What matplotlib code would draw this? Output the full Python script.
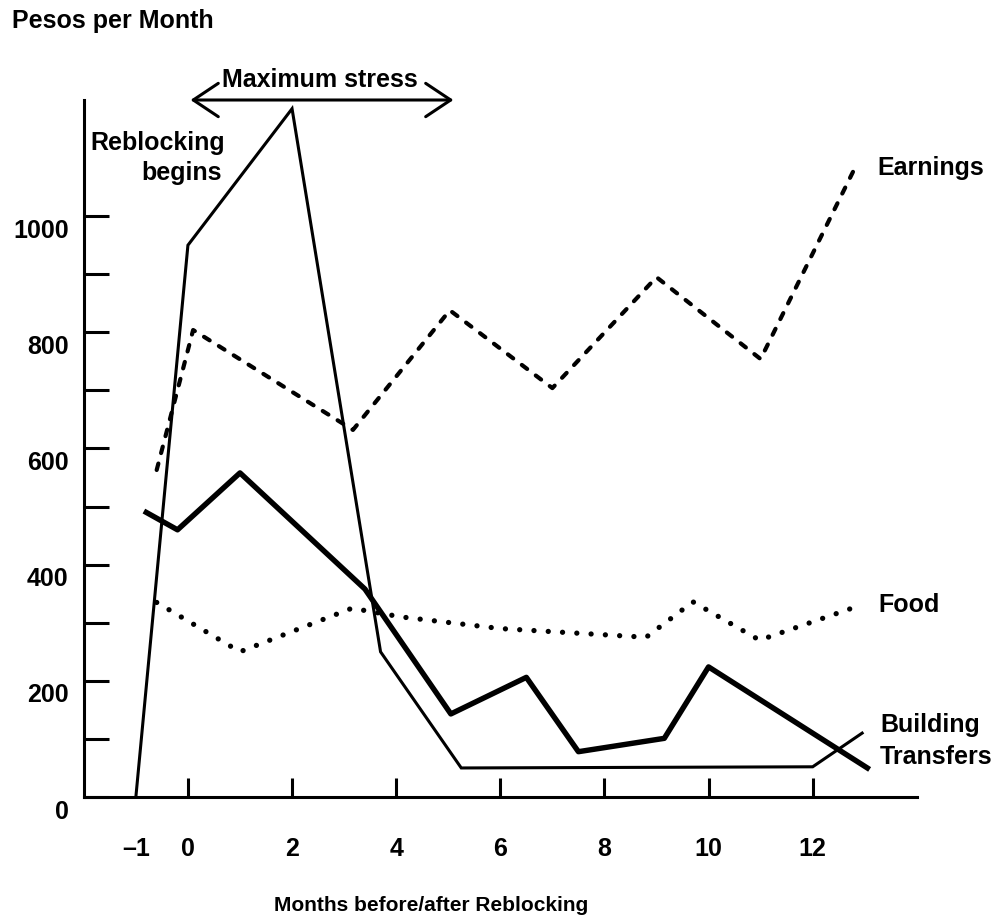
import matplotlib
matplotlib.use("Agg")
import matplotlib.pyplot as plt
from matplotlib.transforms import ScaledTranslation

# ---- data ----
building_x = [-1, 0, 2, 3.7, 5.25, 12, 12.95]
building_y = [0, 950, 1185, 250, 50, 52, 110]

transfers_x = [-0.8, -0.2, 1.0, 3.4, 5.05, 6.5, 7.5, 9.15, 10.0, 13.05]
transfers_y = [490, 460, 558, 358, 143, 206, 78, 101, 224, 50]

earnings_x = [-0.6, 0.1, 3.17, 5.03, 7.0, 9.0, 11.0, 12.8]
earnings_y = [563, 804, 632, 838, 704, 895, 754, 1081]

food_x = [-0.6, 1.0, 3.15, 4.1, 6.0, 8.8, 9.7, 10.98, 12.85]
food_y = [335, 250, 325, 310, 290, 275, 336, 270, 328]

x_ticks = [0, 2, 4, 6, 8, 10, 12]
x_tick_labels = ["0", "2", "4", "6", "8", "10", "12"]
y_ticks = [0, 100, 200, 300, 400, 500, 600, 700, 800, 900, 1000]
y_tick_labels = ["0", "", "200", "", "400", "", "600", "", "800", "", "1000"]

plt.rcParams['font.family'] = ['Liberation Sans', 'DejaVu Sans']
FS = 18
W, H = 993, 922

fig = plt.figure(figsize=(W / 100, H / 100), dpi=100)
ax = fig.add_axes([83.8 / W, (H - 797) / H, 833 / W, 697 / H])
ax.set_xlim(-2, 14)
ax.set_ylim(0, 1200)

ax.plot(building_x, building_y, color='black', lw=2.2, solid_joinstyle='miter', clip_on=False)
ax.plot(transfers_x, transfers_y, color='black', lw=3.9, solid_joinstyle='round', clip_on=False)
ax.plot(earnings_x, earnings_y, color='black', lw=3.0, linestyle=(0, (1.6, 2.6)),
        dash_capstyle='round', clip_on=False)
ax.plot(food_x, food_y, color='black', lw=3.8, linestyle=(0, (0.01, 2.7)),
        dash_capstyle='round', clip_on=False)

for s in ['top', 'right']:
    ax.spines[s].set_visible(False)
for s in ['left', 'bottom']:
    ax.spines[s].set_linewidth(2.2)

ax.set_xticks(x_ticks, labels=x_tick_labels)
ax.set_xticks([-1], labels=['\u20131'], minor=True)
ax.set_yticks(y_ticks, labels=y_tick_labels)
ax.tick_params(axis='x', which='major', direction='in', length=14, width=2.2, pad=29,
               labelsize=FS)
ax.tick_params(axis='x', which='minor', direction='in', length=0, pad=29, labelsize=FS)
ax.tick_params(axis='y', direction='in', length=18, width=2.2, pad=11, labelsize=FS)
for lab in ax.get_xticklabels(which='both'):
    lab.set_fontweight('bold')
for lab in ax.get_yticklabels():
    lab.set_fontweight('bold')
    lab.set_transform(lab.get_transform() + ScaledTranslation(0, -12 / 100, fig.dpi_scale_trans))

# arrow for maximum stress
ax.annotate('', xy=(0.05, 1200), xytext=(5.1, 1200), xycoords='data',
            arrowprops=dict(arrowstyle='<->, head_length=0.9, head_width=0.6',
                            lw=2.2, color='black', mutation_scale=20,
                            shrinkA=0, shrinkB=0), annotation_clip=False)

def ftext(x, y, s, ha='left', va='center', size=FS, **kw):
    fig.text(x / W, 1 - y / H, s, ha=ha, va=va, fontsize=size, fontweight='bold', **kw)

ftext(12, 21, 'Pesos per Month')
ftext(320, 80, 'Maximum stress', ha='center')
ftext(225, 143, 'Reblocking', ha='right')
ftext(222, 173, 'begins', ha='right')
ftext(877, 168, 'Earnings')
ftext(878, 605, 'Food')
ftext(880, 725, 'Building')
ftext(880, 757, 'Transfers')
ftext(431, 905, 'Months before/after Reblocking', ha='center', size=15)

fig.savefig('out.png', dpi=100)
